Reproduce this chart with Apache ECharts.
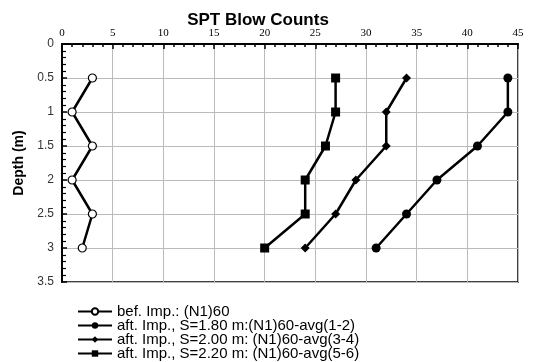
<!DOCTYPE html>
<html>
<head>
<meta charset="utf-8">
<script src="https://cdn.jsdelivr.net/npm/echarts@6/dist/echarts.min.js"></script>
<style>
  html, body { margin: 0; padding: 0; background: #fff; }
  #chart { width: 541px; height: 362px; }
</style>
</head>
<body>
<div id="chart"></div>
<script>
// depth (m) of each reading
const depths = [0.5, 1, 1.5, 2, 2.5, 3];
// blow counts
const befImp = [3, 1, 3, 1, 3, 2];
const aftS180 = [44, 44, 41, 37, 34, 31];
const aftS200 = [34, 32, 32, 29, 27, 24];
const aftS220 = [27, 27, 26, 24, 24, 20];
const seriesNames = [
    'bef. Imp.: (N1)60',
    'aft. Imp., S=1.80 m:(N1)60-avg(1-2)',
    'aft. Imp., S=2.00 m: (N1)60-avg(3-4)',
    'aft. Imp., S=2.20 m: (N1)60-avg(5-6)'
];

const pairs = (vals)=>vals.map((v,i)=>[v, depths[i]]);

const mkSeries = (name, vals, symbol, size, fill)=>({
    name,
    type: 'line',
    data: pairs(vals),
    symbol,
    symbolSize: size,
    showSymbol: true,
    lineStyle: { color: '#000', width: 2.5 },
    itemStyle: { color: fill, borderColor: '#000', borderWidth: fill === '#fff' ? 1.2 : 0 },
    emphasis: { disabled: true },
    z: 5
});

const tickLine = { color: '#000', width: 1.5 };

const myChart = echarts.init(document.getElementById('chart'), null, { renderer: 'canvas' });
myChart.setOption({
    animation: false,
    title: {
        text: 'SPT Blow Counts',
        left: 253, top: 7, textAlign: 'center',
        textStyle: { fontFamily: 'Arial, Liberation Sans', fontSize: 17, fontWeight: 'bold', color: '#000' }
    },
    grid: { left: 62, right: 23, top: 44, bottom: 80, show: true, borderColor: '#000', borderWidth: 1.5 },
    legend: {
        orient: 'vertical', left: 72, top: 299, height: 70,
        itemWidth: 34, itemHeight: 8, itemGap: -1,
        textStyle: { fontFamily: 'Arial, Liberation Sans', fontSize: 15, color: '#000' },
        data: seriesNames
    },
    xAxis: {
        type: 'value', position: 'top', min: 0, max: 45, interval: 5,
        axisLine: { show: true, lineStyle: { color: '#000', width: 2 } },
        axisTick: { show: true, inside: true, length: 5, lineStyle: tickLine },
        minorTick: { show: true, splitNumber: 5, length: 3, lineStyle: tickLine },
        axisLabel: { fontFamily: 'Liberation Serif, Times New Roman, serif', fontSize: 11, color: '#000', margin: 5 },
        splitLine: { show: true, lineStyle: { color: '#bbb', width: 1 } }
    },
    yAxis: {
        type: 'value', inverse: true, min: 0, max: 3.5, interval: 0.5,
        name: 'Depth (m)', nameLocation: 'middle', nameGap: 36, nameRotate: 90,
        nameTextStyle: { fontFamily: 'Arial, Liberation Sans', fontSize: 14, fontWeight: 'bold', color: '#000' },
        axisLine: { show: true, lineStyle: { color: '#000', width: 2 } },
        axisTick: { show: true, inside: true, length: 5, lineStyle: tickLine },
        minorTick: { show: true, splitNumber: 5, length: 4, lineStyle: { color: '#000', width: 1.2 } },
        axisLabel: { fontFamily: 'Arial, Liberation Sans', fontSize: 12, color: '#333', margin: 8 },
        splitLine: { show: true, lineStyle: { color: '#bbb', width: 1 } }
    },
    series: [
        mkSeries(seriesNames[0], befImp, 'circle', 8, '#fff'),
        mkSeries(seriesNames[1], aftS180, 'circle', 9, '#000'),
        mkSeries(seriesNames[2], aftS200, 'diamond', 9, '#000'),
        mkSeries(seriesNames[3], aftS220, 'rect', 9, '#000')
    ]
});
</script>
</body>
</html>
